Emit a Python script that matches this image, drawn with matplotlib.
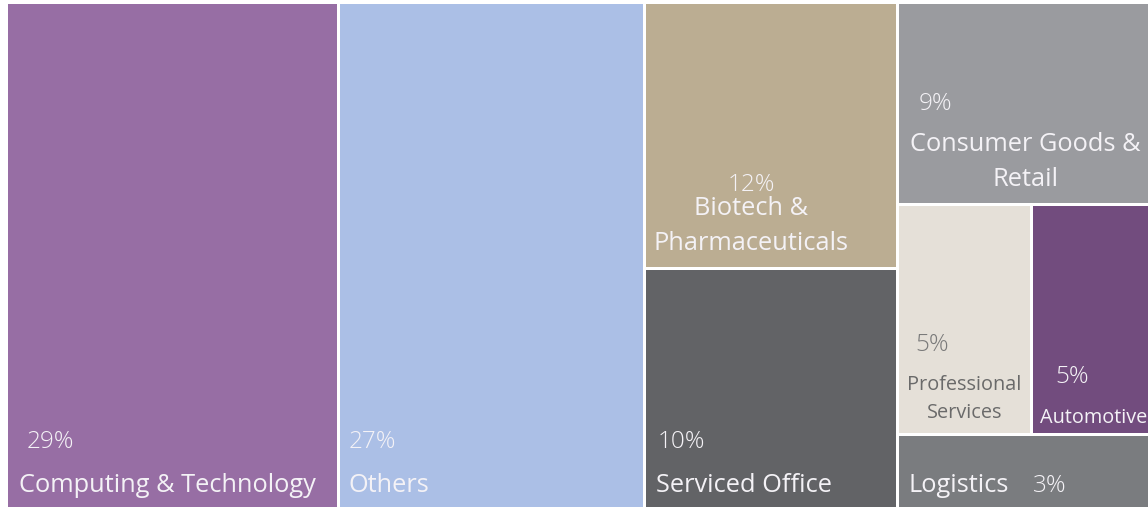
import matplotlib
matplotlib.use("Agg")
import matplotlib.pyplot as plt
from matplotlib.patches import Rectangle

# ---- data ----
categories = ["Computing & Technology", "Others", "Biotech &\nPharmaceuticals",
              "Serviced Office", "Consumer Goods &\nRetail", "Professional\nServices",
              "Automotive", "Logistics"]
values = [29.0, 26.8, 11.6, 10.5, 8.8, 5.3, 4.7, 3.2]
pct_labels = ["29%", "27%", "12%", "10%", "9%", "5%", "5%", "3%"]

colors = ["#976EA4", "#ABBFE6", "#BBAD92", "#626366", "#9A9B9F", "#E5E0D8",
          "#724C7E", "#7A7C7F"]

# layout structure: columns, each column a list of rows, each row a list of indices
layout = [[[0]], [[1]], [[2], [3]], [[4], [5, 6], [7]]]

W, H = 1148, 507
X0, Y0, TW, TH = 8, 4, 1143, 506
GAP = 3

fig = plt.figure(figsize=(W / 100, H / 100), dpi=100)
ax = fig.add_axes([0, 0, 1, 1])
ax.set_xlim(0, W)
ax.set_ylim(H, 0)
ax.axis("off")

total = sum(values)
rects = {}
x = X0
for col in layout:
    csum = sum(values[i] for row in col for i in row)
    cw = TW * csum / total
    y = Y0
    for row in col:
        rsum = sum(values[i] for i in row)
        rh = TH * rsum / csum
        xx = x
        for i in row:
            w = cw * values[i] / rsum
            rects[i] = (xx, y, w - GAP, rh - GAP)
            xx += w
        y += rh
    x += cw

for i, (rx, ry, rw, rh) in rects.items():
    ax.add_patch(Rectangle((rx, ry), rw, rh, facecolor=colors[i], edgecolor="none"))

FONT = "Open Sans"
WHITE = "#F4F2F6"
big = 18.3
pct = 17.5
small = 14.3

def txt(x, y, s, size, color=WHITE, ha="left", weight="normal", ls=1.5, **kw):
    ax.text(x, y, s, fontsize=size, color=color, ha=ha, va="center",
            family=FONT, fontweight=weight, clip_on=True, linespacing=ls, **kw)

# Computing
r = rects[0]
txt(r[0] + 19, 442, pct_labels[0], pct, weight="light")
txt(r[0] + 11, 486, categories[0], big)
# Others
r = rects[1]
txt(r[0] + 9, 442, pct_labels[1], pct, weight="light")
txt(r[0] + 9, 486, categories[1], big)
# Biotech
r = rects[2]
cx = r[0] + r[2] / 2 - 20
txt(cx, 185, pct_labels[2], pct, ha="center", weight="light")
txt(cx, 226, categories[2], big, ha="center")
# Serviced office
r = rects[3]
txt(r[0] + 11, 442, pct_labels[3], pct, weight="light")
txt(r[0] + 10, 486, categories[3], big)
# Consumer goods
r = rects[4]
txt(r[0] + 19, 104, pct_labels[4], pct, weight="light")
txt(r[0] + 126, 162, categories[4], big, ha="center")
# Professional services
r = rects[5]
txt(r[0] + 16, 345, pct_labels[5], pct, color="#7A7A7A", weight="light")
txt(r[0] + r[2] / 2, 399, categories[5], small, color="#6A6A6A", ha="center", ls=1.55)
# Automotive
r = rects[6]
txt(r[0] + 23, 377, pct_labels[6], pct, weight="light")
txt(r[0] + 7, 418, categories[6], small)
# Logistics
r = rects[7]
txt(r[0] + 9, 486, categories[7], big)
txt(r[0] + 134, 486, pct_labels[7], pct, weight="light")

fig.savefig("out.png", dpi=100)
